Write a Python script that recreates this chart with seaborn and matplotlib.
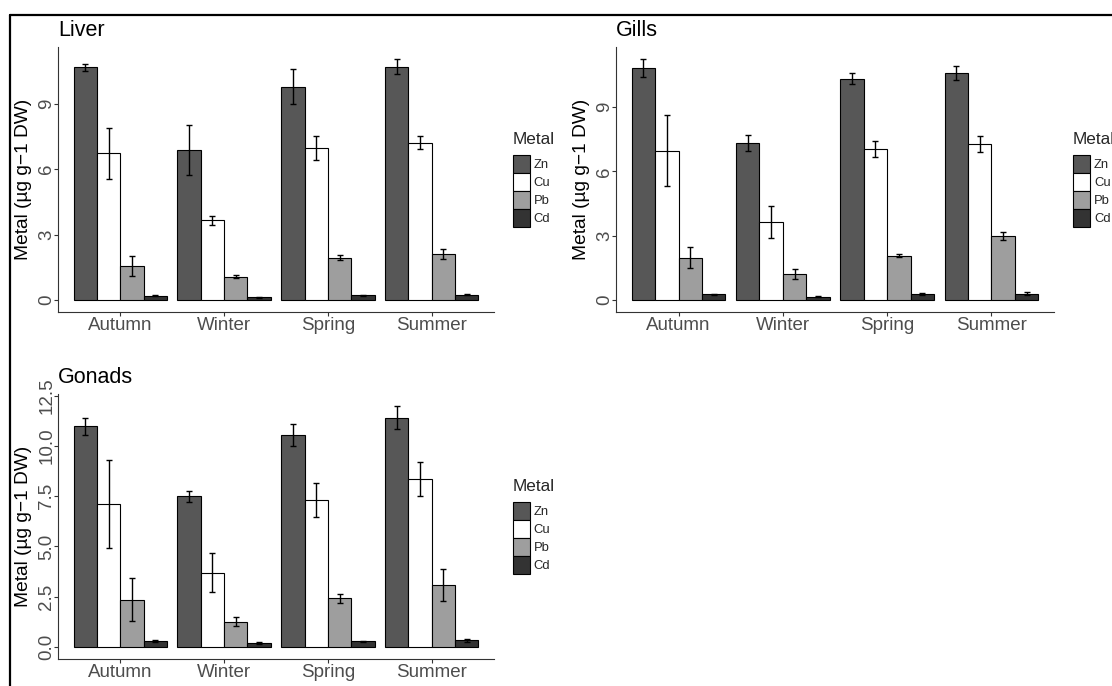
import pandas as pd
import matplotlib.pyplot as plt
import seaborn as sns
from matplotlib.lines import Line2D

seasons = ["Autumn", "Winter", "Spring", "Summer"]
metals = ["Zn", "Cu", "Pb", "Cd"]
metal_colors = ["#575757", "#FFFFFF", "#9E9E9E", "#333333"]

# means, one row per metal (Zn, Cu, Pb, Cd), one column per season
liver_mean = [[10.67, 6.86, 9.78, 10.70],
              [6.74, 3.66, 6.96, 7.22],
              [1.56, 1.07, 1.93, 2.11],
              [0.20, 0.12, 0.21, 0.24]]
liver_err = [[0.17, 1.15, 0.81, 0.35],
             [1.17, 0.20, 0.55, 0.30],
             [0.44, 0.08, 0.12, 0.23],
             [0.03, 0.02, 0.03, 0.03]]

gills_mean = [[10.81, 7.33, 10.33, 10.58],
              [6.97, 3.64, 7.05, 7.28],
              [1.98, 1.23, 2.07, 2.99],
              [0.27, 0.16, 0.27, 0.30]]
gills_err = [[0.43, 0.36, 0.27, 0.34],
             [1.66, 0.73, 0.37, 0.36],
             [0.47, 0.23, 0.06, 0.19],
             [0.03, 0.02, 0.04, 0.05]]

gonads_mean = [[10.98, 7.49, 10.55, 11.41],
               [7.12, 3.69, 7.30, 8.37],
               [2.35, 1.26, 2.43, 3.10],
               [0.30, 0.20, 0.28, 0.33]]
gonads_err = [[0.42, 0.27, 0.56, 0.58],
              [2.20, 0.97, 0.85, 0.84],
              [1.08, 0.24, 0.22, 0.79],
              [0.04, 0.04, 0.03, 0.06]]

sns.set_theme(style="white")
plt.rcParams["font.family"] = ["Liberation Sans", "DejaVu Sans"]


def to_long(means, errs):
    rows = []
    for i, m in enumerate(metals):
        for j, s in enumerate(seasons):
            rows.append({"Season": s, "Metal": m, "value": means[i][j], "err": errs[i][j]})
    return pd.DataFrame(rows)


def draw_panel(ax, title, means, errs, yticks, ticklabels, legend_x):
    df = to_long(means, errs)
    sns.barplot(data=df, x="Season", y="value", hue="Metal", order=seasons,
                hue_order=metals, palette=dict(zip(metals, metal_colors)),
                width=0.9, edgecolor="black", linewidth=0.8, errorbar=None,
                saturation=1, ax=ax)
    # error bars on top of each bar
    bar_containers = list(ax.containers)
    for i, cont in enumerate(bar_containers):
        for j, bar in enumerate(cont):
            xc = bar.get_x() + bar.get_width() / 2
            ax.errorbar(xc, means[i][j], yerr=errs[i][j], color="black",
                        lw=1.0, capsize=2.4, capthick=1.0, zorder=5)

    top = max(m + e for mr, er in zip(means, errs) for m, e in zip(mr, er))
    ax.set_ylim(-0.05 * top, 1.05 * top)
    ax.set_xlim(-0.6, 3.6)
    ax.set_yticks(yticks)
    ax.set_yticklabels(ticklabels)
    ax.set_xlabel("")
    ax.set_ylabel("Metal (µg g−1 DW)", fontsize=13.8, color="black")
    ax.yaxis.set_label_coords(-0.06, 0.5)
    ax.set_title(title, loc="left", fontsize=15.5, pad=8, color="black")

    sns.despine(ax=ax)
    for sp in ["left", "bottom"]:
        ax.spines[sp].set_color("#333333")
        ax.spines[sp].set_linewidth(0.8)
    ax.tick_params(axis="both", colors="#333333", length=3, width=0.8,
                   labelsize=13.5, labelcolor="#4D4D4D", left=True, bottom=True)
    ax.tick_params(axis="y", labelrotation=90, pad=-1)
    ax.tick_params(axis="x", pad=0.5)
    plt.setp(ax.get_yticklabels(), va="center")

    sns.move_legend(ax, loc="center left", bbox_to_anchor=(legend_x, 0.5),
                    title="Metal", frameon=False, fontsize=9.4, title_fontsize=12.3,
                    handlelength=1.3, handleheight=1.75, labelspacing=0,
                    handletextpad=0.3, borderpad=0, borderaxespad=0,
                    alignment="left")
    leg = ax.get_legend()
    leg._legend_box.sep = 6


fig = plt.figure(figsize=(11.12, 6.86), dpi=100)
ax1 = fig.add_axes([58 / 1112, 1 - 312 / 686, 436 / 1112, 265 / 686])
ax2 = fig.add_axes([616 / 1112, 1 - 312 / 686, 438 / 1112, 265 / 686])
ax3 = fig.add_axes([58 / 1112, 1 - 659 / 686, 436 / 1112, 265 / 686])

draw_panel(ax1, "Liver", liver_mean, liver_err, [0, 3, 6, 9], ["0", "3", "6", "9"], 1.0434)
draw_panel(ax2, "Gills", gills_mean, gills_err, [0, 3, 6, 9], ["0", "3", "6", "9"], 1.0434)
draw_panel(ax3, "Gonads", gonads_mean, gonads_err, [0, 2.5, 5, 7.5, 10, 12.5],
           ["0.0", "2.5", "5.0", "7.5", "10.0", "12.5"], 1.0434)

# frame lines from the screenshot crop
fig.add_artist(Line2D([10 / 1112, 1], [1 - 15 / 686, 1 - 15 / 686], color="black", lw=1.6))
fig.add_artist(Line2D([10 / 1112, 10 / 1112], [0, 1 - 15 / 686], color="black", lw=1.6))

fig.savefig("out.png", dpi=100)
